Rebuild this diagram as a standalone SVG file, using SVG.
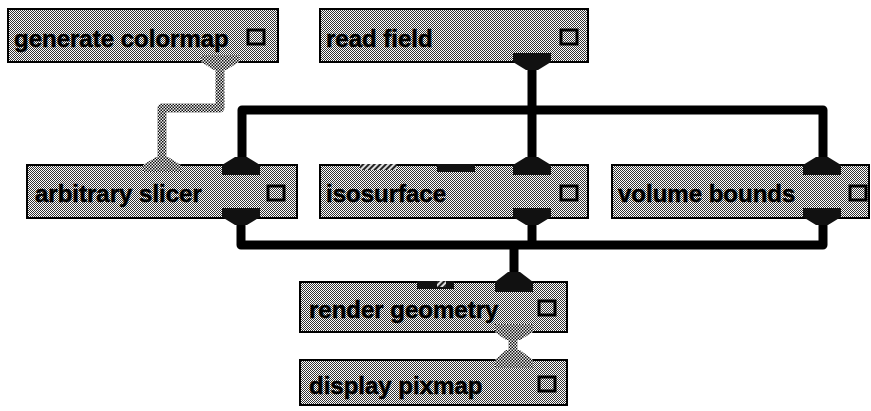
<svg xmlns="http://www.w3.org/2000/svg" width="871" height="411" viewBox="0 0 871 411">
<defs>
  <pattern id="chk" width="2" height="2" patternUnits="userSpaceOnUse">
    <rect width="2" height="2" fill="#ffffff"/>
    <rect x="0" y="0" width="1" height="1" fill="#333"/>
    <rect x="1" y="1" width="1" height="1" fill="#333"/>
  </pattern>
  <pattern id="gry" width="3" height="3" patternUnits="userSpaceOnUse">
    <rect width="3" height="3" fill="#f0f0f0"/>
    <rect x="0" y="0" width="1.5" height="1.5" fill="#111"/>
    <rect x="1.5" y="1.5" width="1.5" height="1.5" fill="#111"/>
  </pattern>
  <pattern id="hatch" width="4" height="4" patternUnits="userSpaceOnUse" patternTransform="rotate(45)">
    <rect width="4" height="4" fill="#ddd"/>
    <rect width="2" height="4" fill="#222"/>
  </pattern>
</defs>
<style>
  .box { fill: url(#chk); stroke: #000; stroke-width: 2; }
  .lbl { font-family: "Liberation Sans", Arial, sans-serif; font-weight: bold; font-size: 24px; fill: #000; stroke: #000; stroke-width: 0.5; }
  .ico { fill: none; stroke: #000; stroke-width: 3; }
  .dark { fill: #111; }
  .grey { fill: url(#gry); }
  .wire { fill: none; stroke: #000; stroke-width: 9; stroke-linejoin: round; }
  .gwire { fill: none; stroke: url(#gry); stroke-width: 9; stroke-linejoin: round; }
</style>

<g id="connectors">
  <path class="gwire" d="M220,66 V108 H162 V158"/>
  <path class="wire" d="M532,66 V160"/>
  <path class="wire" d="M242,160 V110 H823 V160"/>
  <path class="wire" d="M241,222 V245 H823 V222"/>
  <path class="wire" d="M532,222 V245"/>
  <path class="wire" d="M514,245 V272"/>
  <path class="gwire" d="M513,336 V354"/>
</g>

<g id="generate-colormap">
  <rect class="box" x="8" y="9" width="270" height="53"/>
  <text class="lbl" x="14" y="47">generate colormap</text>
  <rect class="ico" x="248" y="30" width="16" height="14"/>
  <path class="grey" d="M201,55 H239 V62 L226,70 H214 L201,62 Z"/>
</g>

<g id="read-field">
  <rect class="box" x="320" y="9" width="268" height="53"/>
  <text class="lbl" x="326" y="47">read field</text>
  <rect class="ico" x="561" y="30" width="16" height="14"/>
  <path class="dark" d="M513,53 H551 V62 L538,70 H526 L513,62 Z"/>
</g>

<g id="arbitrary-slicer">
  <rect class="box" x="27" y="165" width="270" height="53"/>
  <text class="lbl" x="35" y="202">arbitrary slicer</text>
  <rect class="ico" x="268" y="186" width="16" height="14"/>
  <path class="grey" d="M143,172 H181 V165 L168,157 H156 L143,165 Z"/>
  <path class="dark" d="M222,175 H260 V165 L247,157 H235 L222,165 Z"/>
  <path class="dark" d="M222,208 H260 V217 L247,225 H235 L222,217 Z"/>
</g>

<g id="isosurface">
  <rect class="box" x="320" y="165" width="268" height="53"/>
  <text class="lbl" x="326" y="202">isosurface</text>
  <rect class="ico" x="561" y="186" width="16" height="14"/>
  <rect x="360" y="164" width="37" height="6" fill="url(#hatch)"/>
  <rect class="dark" x="437" y="164" width="38" height="8"/>
  <path class="dark" d="M513,175 H551 V165 L538,157 H526 L513,165 Z"/>
  <path class="dark" d="M513,208 H551 V217 L538,225 H526 L513,217 Z"/>
</g>

<g id="volume-bounds">
  <rect class="box" x="612" y="165" width="257" height="53"/>
  <text class="lbl" x="618" y="202">volume bounds</text>
  <rect class="ico" x="850" y="186" width="16" height="14"/>
  <path class="dark" d="M803,175 H841 V165 L828,157 H816 L803,165 Z"/>
  <path class="dark" d="M803,208 H841 V217 L828,225 H816 L803,217 Z"/>
</g>

<g id="render-geometry">
  <rect class="box" x="300" y="282" width="267" height="50"/>
  <text class="lbl" x="309" y="318">render geometry</text>
  <rect class="ico" x="539" y="301" width="16" height="14"/>
  <rect class="dark" x="417" y="281" width="37" height="8"/>
  <rect x="437" y="281" width="9" height="6" fill="url(#hatch)"/>
  <path class="dark" d="M495,292 H533 V282 L520,272 H508 L495,282 Z"/>
  <path class="grey" d="M495,324 H533 V332 L520,340 H506 L495,332 Z"/>
</g>

<g id="display-pixmap">
  <rect class="box" x="300" y="360" width="267" height="45"/>
  <text class="lbl" x="309" y="394">display pixmap</text>
  <rect class="ico" x="539" y="377" width="16" height="14"/>
  <path class="grey" d="M495,368 H533 V360 L520,350 H506 L495,360 Z"/>
</g>
</svg>
